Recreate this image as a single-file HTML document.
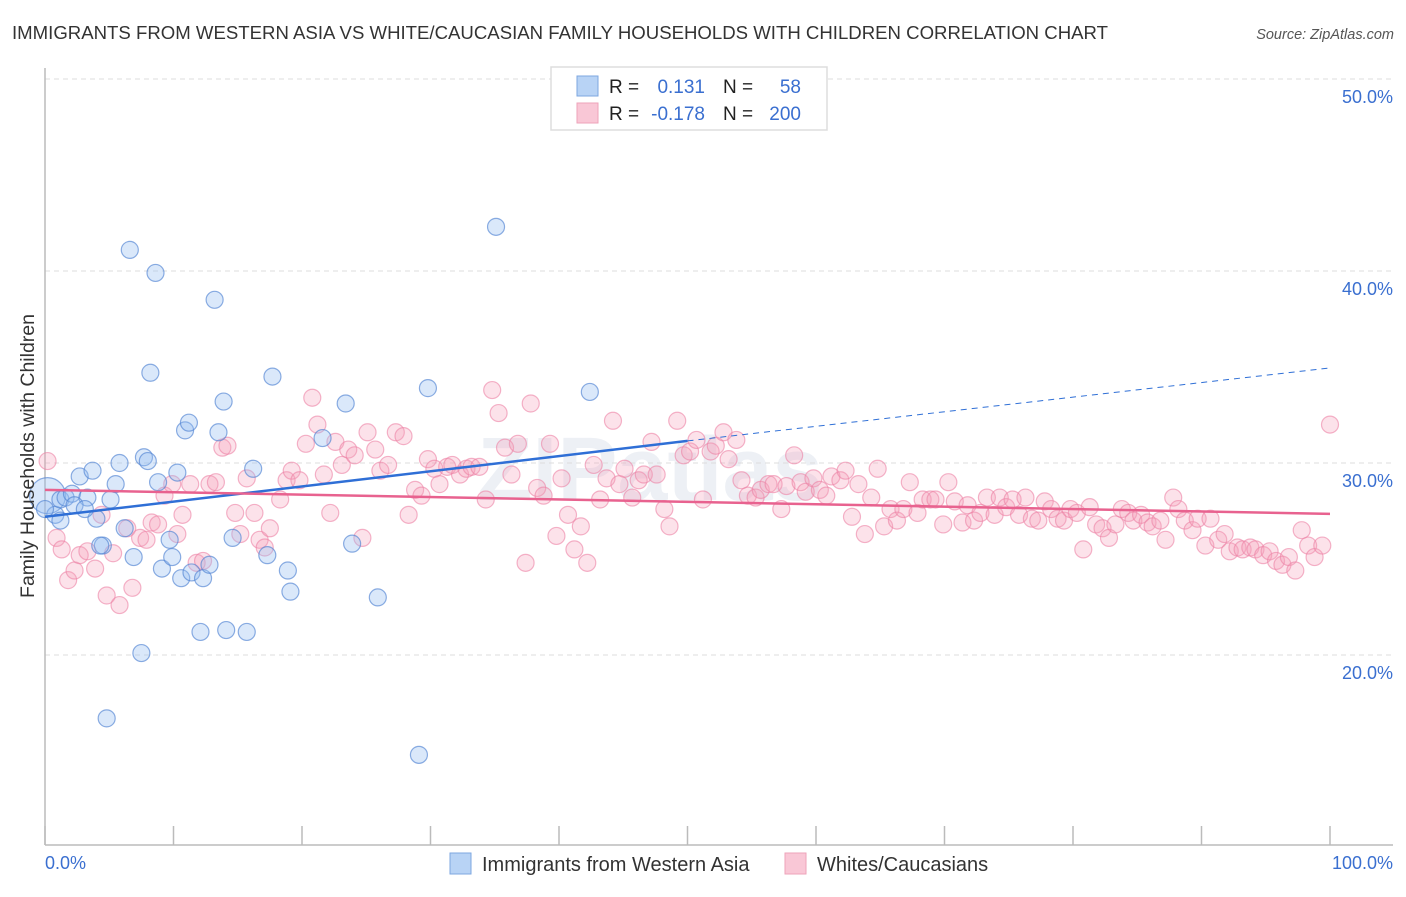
<!DOCTYPE html>
<html><head><meta charset="utf-8"><style>
body{margin:0;background:#fff;font-family:"Liberation Sans",sans-serif;}
svg text{font-family:"Liberation Sans",sans-serif;}
</style></head><body>
<svg id="chart" width="1406" height="892" xmlns="http://www.w3.org/2000/svg">
<text x="12" y="39" font-size="18.6" fill="#333" textLength="1096" lengthAdjust="spacingAndGlyphs">IMMIGRANTS FROM WESTERN ASIA VS WHITE/CAUCASIAN FAMILY HOUSEHOLDS WITH CHILDREN CORRELATION CHART</text>
<text x="1394" y="39" font-size="14.5" fill="#555" font-style="italic" text-anchor="end">Source: ZipAtlas.com</text>
<text x="650" y="500" font-size="90" fill="#edf0f5" font-weight="bold" text-anchor="middle">ZIPatlas</text>
<g id="grid"></g>
<g id="axes"></g>
<g id="pink"></g>
<g id="blue"></g>
<g id="lines"></g>
<text transform="translate(34,456) rotate(-90)" font-size="19.5" fill="#333" text-anchor="middle">Family Households with Children</text>
<text x="45" y="869" font-size="18" fill="#3a6fd0">0.0%</text>
<text x="1393" y="869" font-size="18" fill="#3a6fd0" text-anchor="end">100.0%</text>
<g>
<rect x="551" y="67" width="276" height="63" fill="#fff" stroke="#ddd" stroke-width="1.5"/>
<rect x="577" y="76" width="21" height="20" fill="#b8d3f5" stroke="#7ea7e0"/>
<rect x="577" y="103" width="21" height="20" fill="#f9c7d6" stroke="#eea3ba"/>
<text x="609" y="93" font-size="19" fill="#222">R =</text>
<text x="705" y="93" font-size="19" fill="#3a6fd0" text-anchor="end">0.131</text>
<text x="723" y="93" font-size="19" fill="#222">N =</text>
<text x="801" y="93" font-size="19" fill="#3a6fd0" text-anchor="end">58</text>
<text x="609" y="120" font-size="19" fill="#222">R =</text>
<text x="705" y="120" font-size="19" fill="#3a6fd0" text-anchor="end">-0.178</text>
<text x="723" y="120" font-size="19" fill="#222">N =</text>
<text x="801" y="120" font-size="19" fill="#3a6fd0" text-anchor="end">200</text>
</g>
<g>
<rect x="450" y="853" width="21" height="21" fill="#b8d3f5" stroke="#7ea7e0"/>
<text x="482" y="871" font-size="20" fill="#333">Immigrants from Western Asia</text>
</g>
<g>
<rect x="785" y="853" width="21" height="21" fill="#f9c7d6" stroke="#eea3ba"/>
<text x="817" y="871" font-size="20" fill="#333">Whites/Caucasians</text>
</g>
</svg>
<script>
const yTicks=[20,30,40,50];
const yTickLabels=["20.0%","30.0%","40.0%","50.0%"];
const xTicks=[0,10,20,30,40,50,60,70,80,90,100];
const blueX=[0.2,0.8,1.2,1.6,2.1,2.7,3.3,3.7,4.0,4.5,4.8,5.1,5.5,5.8,6.2,6.6,6.9,7.5,7.7,8.0,8.2,8.6,8.8,9.1,9.9,10.3,10.6,10.9,11.2,11.4,12.1,12.3,12.8,13.2,13.5,13.9,14.1,14.6,15.7,16.2,17.3,17.7,18.9,19.1,21.6,23.4,23.9,25.9,29.1,29.8,35.1,42.4,0,1.2,2.3,3.1,4.3,9.7];
const blueY=[28.3,27.3,28.1,28.2,28.4,29.3,28.2,29.6,27.1,25.7,16.7,28.1,28.9,30.0,26.6,41.1,25.1,20.1,30.3,30.1,34.7,39.9,29.0,24.5,25.1,29.5,24.0,31.7,32.1,24.3,21.2,24.0,24.7,38.5,31.6,33.2,21.3,26.1,21.2,29.7,25.2,34.5,24.4,23.3,31.3,33.1,25.8,23.0,14.8,33.9,42.3,33.7,27.6,27.0,27.8,27.6,25.7,26.0];
const pinkX=[0.2,0.9,1.3,1.8,2.3,2.7,3.3,3.9,4.4,4.8,5.3,5.8,6.4,6.8,7.4,7.9,8.3,8.8,9.3,9.9,10.3,10.7,11.3,11.8,12.3,12.8,13.3,13.8,14.2,14.8,15.2,15.7,16.3,16.7,17.1,17.5,18.3,18.8,19.2,19.8,20.3,20.8,21.2,21.7,22.2,22.6,23.1,23.6,24.1,24.7,25.1,25.7,26.1,26.7,27.3,27.9,28.3,28.8,29.3,29.8,30.3,30.7,31.3,31.7,32.3,32.8,33.2,33.8,34.3,34.8,35.3,35.8,36.3,36.8,37.4,37.8,38.3,38.8,39.3,39.8,40.2,40.7,41.2,41.7,42.2,42.7,43.2,43.7,44.2,44.7,45.1,45.7,46.2,46.6,47.2,47.6,48.2,48.6,49.2,49.7,50.2,50.7,51.2,51.8,52.2,52.8,53.2,53.8,54.2,54.7,55.3,55.7,56.3,56.7,57.3,57.7,58.3,58.8,59.2,59.8,60.3,60.8,61.2,61.9,62.3,62.8,63.3,63.8,64.3,64.8,65.3,65.8,66.3,66.8,67.3,67.9,68.3,68.9,69.3,69.9,70.3,70.8,71.4,71.8,72.3,72.8,73.3,73.9,74.3,74.8,75.3,75.8,76.3,76.8,77.3,77.8,78.3,78.8,79.3,79.8,80.3,80.8,81.3,81.8,82.3,82.8,83.3,83.8,84.3,84.7,85.3,85.8,86.2,86.8,87.2,87.8,88.2,88.7,89.3,89.7,90.3,90.7,91.3,91.8,92.2,92.8,93.2,93.8,94.2,94.8,95.3,95.8,96.3,96.8,97.3,97.8,98.3,98.8,99.4,100];
const pinkY=[30.1,26.1,25.5,23.9,24.4,25.2,25.4,24.5,27.3,23.1,25.3,22.6,26.6,23.5,26.1,26.0,26.9,26.8,28.3,28.9,26.3,27.3,28.9,24.8,24.9,28.9,29.0,30.8,30.9,27.4,26.3,29.2,27.4,26.0,25.6,26.6,28.1,29.1,29.6,29.1,31.0,33.4,32.0,29.4,27.4,31.1,29.9,30.7,30.4,26.1,31.6,30.7,29.6,29.9,31.6,31.4,27.3,28.6,28.3,30.2,29.7,28.9,29.8,29.9,29.4,29.7,29.8,29.8,28.1,33.8,32.6,30.8,29.4,31.0,24.8,33.1,28.7,28.3,31.0,26.2,29.2,27.3,25.5,26.7,24.8,29.9,28.1,29.2,32.2,28.9,29.7,28.2,29.1,29.4,31.1,29.4,27.6,26.7,32.2,30.4,30.6,31.2,28.1,30.6,30.9,31.6,30.2,31.2,29.1,28.3,28.2,28.6,28.9,28.9,27.6,28.8,30.4,29.0,28.5,29.2,28.6,28.3,29.3,29.1,29.6,27.2,28.9,26.3,28.2,29.7,26.7,27.6,27.0,27.6,29.0,27.4,28.1,28.1,28.1,26.8,29.0,28.0,26.9,27.8,27.0,27.4,28.2,27.3,28.2,27.7,28.1,27.3,28.2,27.1,27.0,28.0,27.6,27.1,27.0,27.6,27.4,25.5,27.7,26.8,26.6,26.1,26.8,27.6,27.4,27.0,27.3,26.9,26.7,27.0,26.0,28.2,27.6,27.0,26.5,27.1,25.7,27.1,26.0,26.3,25.4,25.6,25.5,25.6,25.5,25.2,25.4,24.9,24.7,25.1,24.4,26.5,25.7,25.1,25.7,32.0];
const blueTrend=[27.2,31.15,34.95]; // at x=0, 50 (solid end), 100 (dashed end)
const pinkTrend=[28.6,27.35]; // at x=0, 100

const X=v=>45+v*12.85;
const Y=v=>463-(v-30)*19.2;
const NS="http://www.w3.org/2000/svg";
function mk(tag,attrs,parent){const e=document.createElementNS(NS,tag);for(const k in attrs)e.setAttribute(k,attrs[k]);parent.appendChild(e);return e;}
const grid=document.getElementById('grid'),axes=document.getElementById('axes');
yTicks.forEach((t,i)=>{
  const l=mk('line',{x1:45,x2:1393,y1:Y(t),y2:Y(t),stroke:'#ddd','stroke-dasharray':'5,4'},grid);
  
  
  const tx=mk('text',{x:1393,y:Y(t)+24,'font-size':18,fill:'#3a6fd0','text-anchor':'end'},grid);
  tx.textContent=yTickLabels[i];
  
  
});
const ax=mk('line',{x1:45,x2:1393,y1:845,y2:845,stroke:'#bbb','stroke-width':1.5},axes);


const ay=mk('line',{x1:45,x2:45,y1:68,y2:845,stroke:'#bbb','stroke-width':1.5},axes);


xTicks.forEach(t=>{
  const l=mk('line',{x1:X(t),x2:X(t),y1:826,y2:845,stroke:'#bbb','stroke-width':1.5},axes);
  
  
});
const pg=document.getElementById('pink');
pinkX.forEach((x,i)=>{
  const c=mk('circle',{cx:X(x),cy:Y(pinkY[i]),r:8.5,fill:'rgba(244,160,185,0.3)',stroke:'rgba(236,130,165,0.6)','stroke-width':1.2},pg);
  
  
});
const bg=document.getElementById('blue');
blueX.forEach((x,i)=>{
  const c=mk('circle',{cx:X(x),cy:Y(blueY[i]),r:i===0?18:8.5,fill:'rgba(150,190,240,0.35)',stroke:'rgba(80,130,210,0.65)','stroke-width':1.2},bg);
  
  
});
const lg=document.getElementById('lines');
const bl=mk('line',{x1:X(0),y1:Y(blueTrend[0]),x2:X(50),y2:Y(blueTrend[1]),stroke:'#2f6fd6','stroke-width':2.5},lg);


const bd=mk('line',{x1:X(50),y1:Y(blueTrend[1]),x2:X(100),y2:Y(blueTrend[2]),stroke:'#2f6fd6','stroke-width':1,'stroke-dasharray':'6,5'},lg);


const pl=mk('line',{x1:X(0),y1:Y(pinkTrend[0]),x2:X(100),y2:Y(pinkTrend[1]),stroke:'#e8628f','stroke-width':2.5},lg);


</script>
</body></html>
